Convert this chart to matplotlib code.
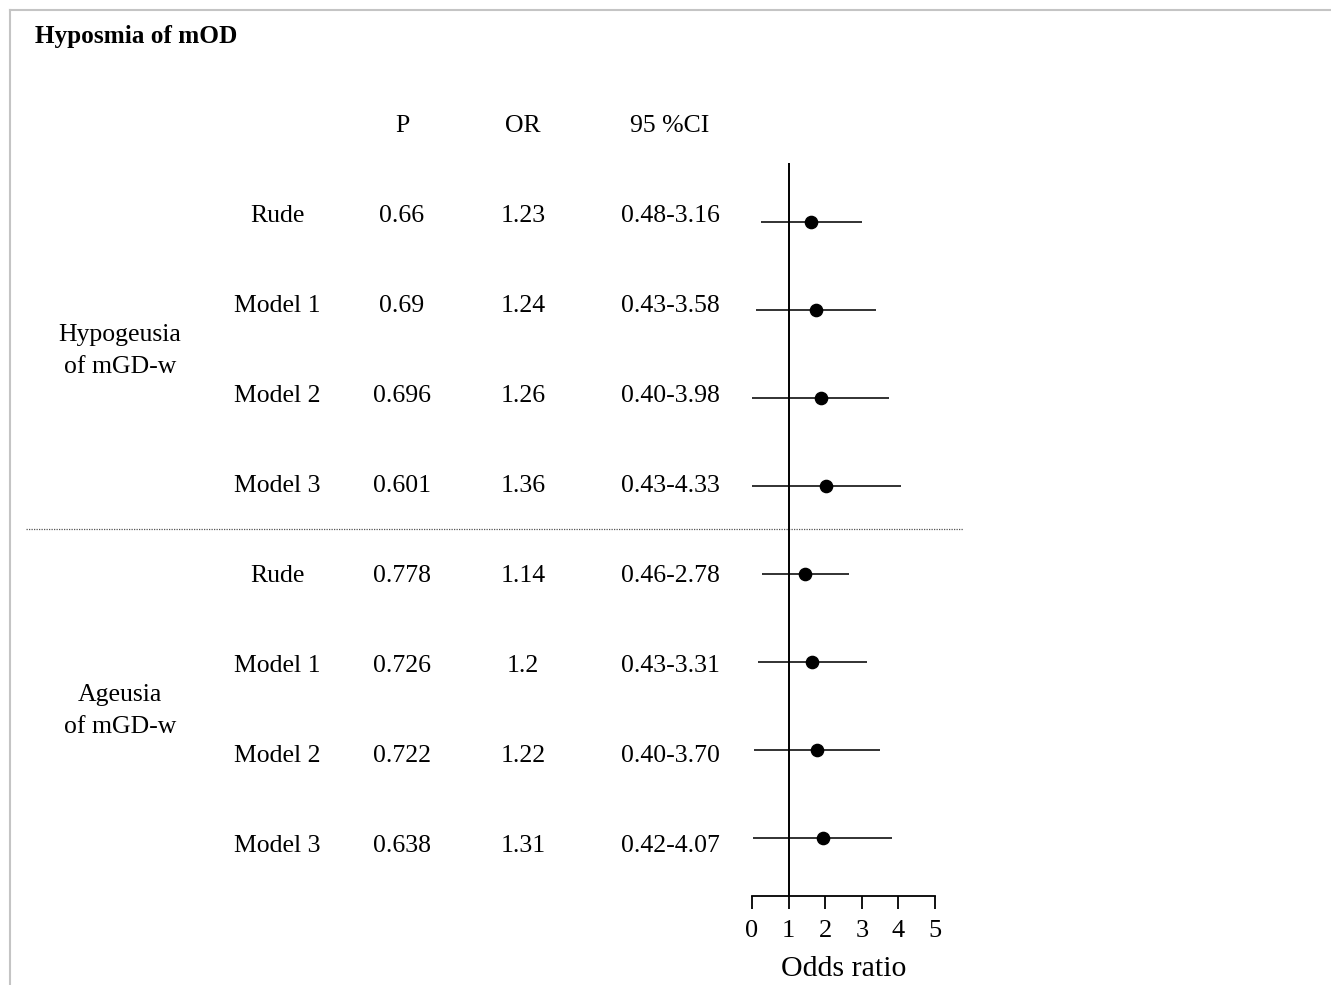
import numpy as np
import matplotlib.pyplot as plt

plt.rcParams['font.family'] = ['Liberation Serif', 'DejaVu Serif']

# Table data
groups = ["Hypogeusia\nof mGD-w", "Ageusia\nof mGD-w"]
models = ["Rude", "Model 1", "Model 2", "Model 3", "Rude", "Model 1", "Model 2", "Model 3"]
p_vals = ["0.66", "0.69", "0.696", "0.601", "0.778", "0.726", "0.722", "0.638"]
or_vals = ["1.23", "1.24", "1.26", "1.36", "1.14", "1.2", "1.22", "1.31"]
ci_vals = ["0.48-3.16", "0.43-3.58", "0.40-3.98", "0.43-4.33",
           "0.46-2.78", "0.43-3.31", "0.40-3.70", "0.42-4.07"]

# Values as drawn on the forest plot
plot_pt = [1.61, 1.75, 1.88, 2.03, 1.46, 1.65, 1.78, 1.93]
plot_lo = [0.25, 0.12, 0.01, 0.01, 0.26, 0.16, 0.05, 0.04]
plot_hi = [3.00, 3.38, 3.74, 4.08, 2.65, 3.13, 3.49, 3.83]
x_ticks = [0, 1, 2, 3, 4, 5]

W, H = 1331, 985
fig = plt.figure(figsize=(W / 100, H / 100), dpi=100)

# background axes in pixel units for the table text
ax0 = fig.add_axes([0, 0, 1, 1])
ax0.set_xlim(0, W)
ax0.set_ylim(H, 0)
ax0.axis("off")

border = "#c4c4c4"
ax0.plot([10, 10], [10, H], color=border, lw=1.5)
ax0.plot([10, W], [10, 10], color=border, lw=1.5)

ax0.text(35, 37, "Hyposmia of mOD", fontsize=18.2, fontweight="bold", va="center", ha="left")

fs = 18.5
head_y = 126
ax0.text(402, head_y, "P", fontsize=fs, ha="center", va="center")
ax0.text(523, head_y, "OR", fontsize=fs, ha="center", va="center")
ax0.text(670, head_y, "95 %CI", fontsize=fs, ha="center", va="center")

for i in range(len(models)):
    y = 216 + 90 * i
    ax0.text(277, y, models[i], fontsize=fs, ha="center", va="center")
    ax0.text(402, y, p_vals[i], fontsize=fs, ha="center", va="center")
    ax0.text(523, y, or_vals[i], fontsize=fs, ha="center", va="center")
    ax0.text(670, y, ci_vals[i], fontsize=fs, ha="center", va="center")

for g, label in enumerate(groups):
    y = 351 + 360 * g
    ax0.text(120, y, label, fontsize=fs, ha="center", va="center", linespacing=1.55)

ax0.plot([26, 963], [529, 529], color="#555555", lw=0.9, ls=(0, (1, 1)))

# forest plot axes: x 0..5 spans pixels 752..935, rows every 88 px from 222
x0, x1 = 752, 935
top, bot = 163, 896
ax = fig.add_axes([x0 / W, 1 - bot / H, (x1 - x0) / W, (bot - top) / H])
ax.set_xlim(0, 5)
ax.set_ylim((bot - 222) / 88, (top - 222) / 88)
ax.patch.set_alpha(0)

rows = np.arange(len(plot_pt))
ax.hlines(rows, plot_lo, plot_hi, color="#222222", lw=1.3)
ax.plot(plot_pt, rows, "o", color="black", ms=8.8)
ax.axvline(1, color="black", lw=1.4)

for s in ["left", "top", "right"]:
    ax.spines[s].set_visible(False)
ax.spines["bottom"].set_linewidth(1.3)
ax.set_yticks([])
ax.set_xticks(x_ticks)
ax.tick_params(axis="x", direction="out", length=9, width=1.3, labelsize=19, pad=8)
ax.set_xlabel("Odds ratio", fontsize=21.5, labelpad=10)

fig.savefig("out.png", dpi=100)
